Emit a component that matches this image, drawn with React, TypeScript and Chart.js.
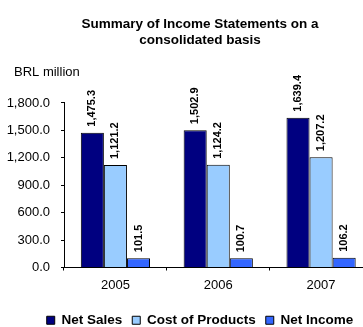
import React, { useEffect, useRef } from "react";
import { Chart, registerables } from "chart.js";

Chart.register(...registerables);

const categories = ["2005", "2006", "2007"];
const netSales = [1475.3, 1502.9, 1639.4];
const costOfProducts = [1121.2, 1124.2, 1207.2];
const netIncome = [101.5, 100.7, 106.2];
const seriesNames = ["Net Sales", "Cost of Products", "Net Income"];
const seriesColors = ["#000080", "#99CCFF", "#3366FF"];
const titleLines = ["Summary of Income Statements on a", "consolidated basis"];
const unitLabel = "BRL million";
const yMin = 0;
const yMax = 1800;
const yStep = 300;

const FONT = "'Liberation Sans', Arial, Helvetica, sans-serif";

const fmt = (v: number) =>
  v.toLocaleString("en-US", { minimumFractionDigits: 1, maximumFractionDigits: 1 });

const labelPlugin = {
  id: "barLabels",
  afterDatasetsDraw(chart: any) {
    const ctx = chart.ctx;
    ctx.save();
    ctx.font = `bold 11px ${FONT}`;
    ctx.fillStyle = "#000";
    chart.data.datasets.forEach((ds: any, i: number) => {
      const meta = chart.getDatasetMeta(i);
      meta.data.forEach((bar: any, j: number) => {
        ctx.save();
        ctx.translate(bar.x, bar.y - 6);
        ctx.rotate(-Math.PI / 2);
        ctx.textAlign = "left";
        ctx.textBaseline = "middle";
        ctx.fillText(fmt(ds.data[j]), 0, 0);
        ctx.restore();
      });
    });
    ctx.restore();
  },
};

const unitPlugin = {
  id: "unitLabel",
  afterLayout(chart: any) {
    // let the y tick labels extend into the left padding without being clipped
    const y = chart.scales.y;
    if (y) y.left = 0;
  },
  afterDraw(chart: any) {
    const ctx = chart.ctx;
    ctx.save();
    ctx.font = `13px ${FONT}`;
    ctx.fillStyle = "#000";
    ctx.textAlign = "left";
    ctx.textBaseline = "middle";
    ctx.fillText(unitLabel, 14, 72);
    ctx.restore();
  },
};

export default function App() {
  const ref = useRef<HTMLCanvasElement | null>(null);

  useEffect(() => {
    document.documentElement.style.overflow = "hidden";
    document.body.style.margin = "0";
    document.body.style.overflow = "hidden";
    const canvas = ref.current;
    if (!canvas) return;
    const chart = new Chart(canvas, {
      type: "bar",
      data: {
        labels: categories,
        datasets: [netSales, costOfProducts, netIncome].map((d, i) => ({
          label: seriesNames[i],
          data: d,
          backgroundColor: seriesColors[i],
          borderColor: "#000",
          borderWidth: 1,
          categoryPercentage: 0.673,
          barPercentage: 1.0,
        })),
      },
      options: {
        responsive: false,
        animation: false,
        devicePixelRatio: 1,
        layout: { padding: { left: 27.5, right: 7.5, top: 0, bottom: -10 } },
        font: { family: FONT },
        plugins: {
          title: {
            display: true,
            text: titleLines,
            color: "#000",
            font: { family: FONT, size: 13.5, weight: "bold", lineHeight: 1.185 },
            padding: { top: 16, bottom: 55 },
          },
          legend: {
            position: "bottom",
            labels: {
              color: "#000",
              font: { family: FONT, size: 13.5, weight: "bold" },
              boxWidth: 8,
              boxHeight: 8,
              padding: 10,
            },
          },
          tooltip: { enabled: false },
        },
        scales: {
          x: {
            afterFit(scale: any) {
              scale.height = 36;
            },
            grid: {
              offset: true,
              drawOnChartArea: false,
              drawTicks: true,
              tickLength: 3,
              color: "#000",
            },
            border: { display: true, color: "#000" },
            ticks: { color: "#000", font: { family: FONT, size: 13 }, padding: 7 },
          },
          y: {
            min: yMin,
            max: yMax,
            afterFit(scale: any) {
              scale.width = 36.5;
            },
            grid: {
              drawOnChartArea: false,
              drawTicks: true,
              tickLength: 3,
              color: "#000",
            },
            border: { display: true, color: "#000" },
            ticks: {
              stepSize: yStep,
              color: "#000",
              font: { family: FONT, size: 13 },
              padding: 11,
              callback: (v: any) => fmt(Number(v)),
            },
          },
        },
      },
      plugins: [labelPlugin, unitPlugin],
    });
    return () => chart.destroy();
  }, []);

  return (
    <div style={{ position: "absolute", left: 0, top: 0, width: 380, height: 327 }}>
      <canvas ref={ref} width={380} height={327} />
    </div>
  );
}
